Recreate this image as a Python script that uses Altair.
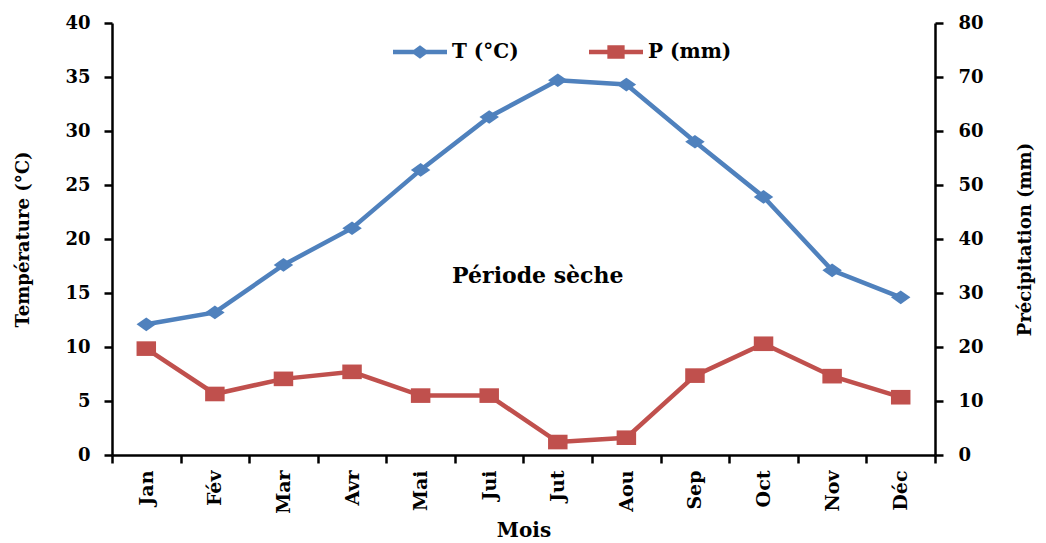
import altair as alt
import pandas as pd

months = ["Jan", "Fév", "Mar", "Avr", "Mai", "Jui", "Jut", "Aou", "Sep", "Oct", "Nov", "Déc"]
temperature = [12.1, 13.2, 17.6, 21.0, 26.4, 31.3, 34.7, 34.3, 29.0, 23.9, 17.1, 14.6]
precipitation = [19.7, 11.3, 14.1, 15.4, 11.0, 11.0, 2.4, 3.2, 14.7, 20.6, 14.6, 10.7]
series = ["T (°C)", "P (mm)"]
series_colors = ["#4F81BD", "#C0504D"]
annot_text = ["Période sèche"]
annot_month = ["Jut"]
annot_temp = [16.6]

df = pd.DataFrame({"Mois": months, "T": temperature, "P": precipitation})
leg_df = pd.DataFrame({"serie": series})
ann_df = pd.DataFrame({"Mois": annot_month, "T": annot_temp, "label": annot_text})

FONT = "DejaVu Serif"
BLUE, RED = series_colors

diamond = "M0,-0.7L1,0L0,0.7L-1,0Z"
square = "M-1,-0.75H1V0.75H-1Z"
leg_T = "M-1,-0.08H1V0.08H-1Z M0,-0.25L0.34,0L0,0.25L-0.34,0Z"
leg_P = "M-1,-0.08H1V0.08H-1Z M-0.32,-0.25H0.32V0.25H-0.32Z"

x_enc = alt.X(
    "Mois:N", sort=months,
    scale=alt.Scale(type="band", paddingInner=0, paddingOuter=0),
    axis=alt.Axis(title="Mois", tickBand="extent", labelAngle=270, labelFontSize=19,
                  labelPadding=7, titleFontSize=20, titlePadding=7),
)
yT = alt.Y(
    "T:Q", scale=alt.Scale(domain=[0, 40], nice=False),
    axis=alt.Axis(title="Température (°C)", values=list(range(0, 45, 5)), orient="left",
                  labelPadding=14, titlePadding=32, titleFontSize=18),
)
yP = alt.Y(
    "P:Q", scale=alt.Scale(domain=[0, 80], nice=False),
    axis=alt.Axis(title="Précipitation (mm)", values=list(range(0, 90, 10)), orient="right",
                  labelPadding=15, titlePadding=51, titleAngle=270, titleFontSize=18),
)

tbase = alt.Chart(df)
t_line = tbase.mark_line(color=BLUE, strokeWidth=4.5).encode(x=x_enc, y=yT)
t_pts = tbase.mark_point(shape=diamond, size=380, filled=True, color=BLUE, opacity=1).encode(x=x_enc, y=yT)
ann = alt.Chart(ann_df).mark_text(font=FONT, fontWeight="bold", fontSize=22, dx=-20, color="black").encode(
    x=x_enc, y=yT, text="label:N")
left = alt.layer(t_line, t_pts, ann)

p_line = tbase.mark_line(color=RED, strokeWidth=4.5).encode(x=x_enc, y=yP)
p_pts = tbase.mark_point(shape=square, size=380, filled=True, color=RED, opacity=1).encode(x=x_enc, y=yP)
right = alt.layer(p_line, p_pts)

leg_common = dict(
    title=None, orient="none", legendX=281, legendY=2, direction="horizontal",
    symbolSize=2916, symbolStrokeWidth=0, labelFont=FONT, labelFontWeight="bold",
    labelFontSize=20, labelColor="black", labelOffset=5, columnPadding=70, padding=0,
)
legend_layer = alt.Chart(leg_df).transform_filter("false").mark_point(filled=True, opacity=1).encode(
    color=alt.Color("serie:N", scale=alt.Scale(domain=series, range=series_colors),
                    legend=alt.Legend(**leg_common)),
    shape=alt.Shape("serie:N", scale=alt.Scale(domain=series, range=[leg_T, leg_P]),
                    legend=alt.Legend(**leg_common)),
)

chart = alt.layer(left, right, legend_layer).resolve_scale(y="independent").properties(
    width=823, height=432,
    autosize=alt.AutoSizeParams(type="none"),
    padding={"left": 104, "top": 15, "right": 103, "bottom": 88},
).configure_view(stroke=None).configure_axis(
    domainColor="black", domainWidth=2.5, tickColor="black", tickWidth=2.5, tickSize=8,
    labelFont=FONT, labelFontWeight="bold", labelFontSize=18, labelColor="black",
    titleFont=FONT, titleFontWeight="bold", titleColor="black", grid=False,
)

chart.save("out.html", embed_options={"renderer": "svg", "actions": False})
